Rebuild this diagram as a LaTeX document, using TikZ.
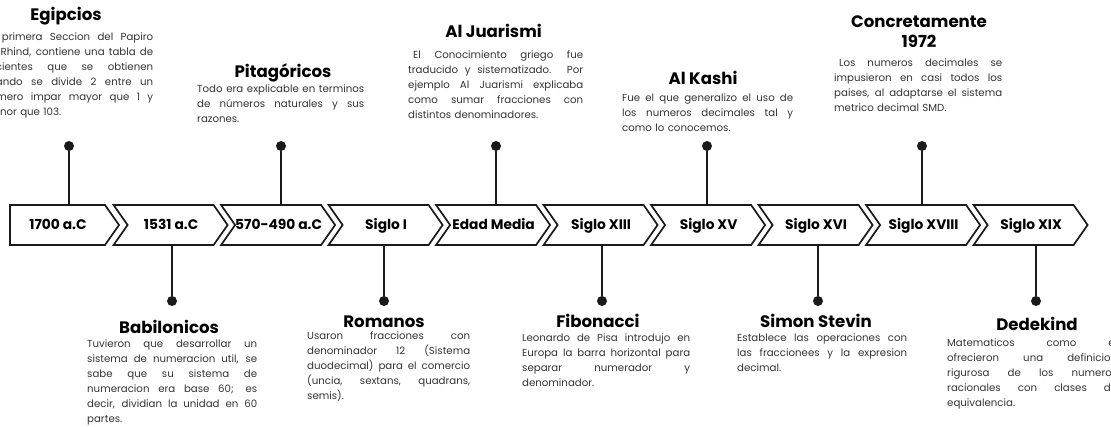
\documentclass[tikz,border=0pt]{standalone}
\usepackage{fontspec}
\setmainfont{Poppins}
\setlength{\parindent}{0pt}
\definecolor{linec}{HTML}{1A1A1A}
\definecolor{bodyc}{HTML}{333333}
\newcommand\jline[1]{\noindent{\spaceskip=0pt\xspaceskip=0pt\makebox[\hsize][s]{#1}}\par}
\newcommand\lline[1]{\noindent #1\par}
\begin{document}
\begin{tikzpicture}[x=1pt,y=-1pt,
  chev/.style={draw=linec, line width=1.7pt, line join=miter},
  lbl/.style={font=\fontsize{13.8}{14}\selectfont\bfseries, text=black, text height=9.7pt, text depth=0pt, inner sep=0pt, minimum height=40pt},
  ttl/.style={font=\fontsize{16.6}{20}\selectfont\bfseries, text=black, inner sep=0pt, anchor=base},
  body/.style={font=\fontsize{10.2}{14.9}\selectfont, text=bodyc, inner sep=0pt, anchor=north west},
  stem/.style={draw=linec, line width=2.2pt},
  dot/.style={circle, fill=linec, inner sep=0pt, minimum size=10pt}
]
\useasboundingbox (0,0) rectangle (1111,427);
\clip (0,0) rectangle (1111,427);

% chevrons
\draw[chev] (10,205) -- (105,205) -- (119,225) -- (105,245) -- (10,245) -- cycle;
\node[lbl] (b1) at (58,225) {1700 a.C};
\foreach \i/\t [count=\k from 0] in {2/1531 a.C,3/570-490 a.C,4/Siglo I,5/Edad Media,6/Siglo XIII,7/Siglo XV,8/Siglo XVI,9/Siglo XVIII,10/Siglo XIX}{
  \pgfmathsetmacro\xo{113.6+\k*107.5}
  \draw[chev] (\xo,205) -- ++(100,0) -- ++(14,20) -- ++(-14,20) -- ++(-100,0) -- ++(14,-20) -- cycle;
  \node[lbl] (b\i) at (\xo+57.5,225) {\t};
}

% top events
\node[dot] (d1) at (69,146) {};
\node[dot] (d3) at (281,146) {};
\node[dot] (d5) at (496,146) {};
\node[dot] (d7) at (707,146) {};
\node[dot] (d9) at (922,146) {};
\foreach \n in {1,3,5,7,9}{\draw[stem] (d\n) -- (d\n |- b\n.north);}

% bottom events
\node[dot] (d2) at (172,301) {};
\node[dot] (d4) at (384,301) {};
\node[dot] (d6) at (602,301) {};
\node[dot] (d8) at (818,301) {};
\node[dot] (d10) at (1036,301) {};
\foreach \n in {2,4,6,8,10}{\draw[stem] (d\n) -- (d\n |- b\n.south);}

% titles
\node[ttl] (t1) at (66,21) {Egipcios};
\node[ttl] (t3) at (283,78) {Pitagóricos};
\node[ttl] (t5) at (493.5,38) {Al Juarismi};
\node[ttl] (t7) at (703,84.5) {Al Kashi};
\node[ttl, anchor=north, align=center] (t9) at (919,16) {Concretamente\\1972};
\node[ttl] (t2) at (169,334) {Babilonicos};
\node[ttl] (t4) at (384,328) {Romanos};
\node[ttl] (t6) at (598,328) {Fibonacci};
\node[ttl] (t8) at (816,328) {Simon Stevin};
\node[ttl] (t10) at (1037,331) {Dedekind};

% bodies
\node[body, text width=170pt] (x1) at (-17,33) {%
\jline{La primera Seccion del Papiro}
\jline{de Rhind, contiene una tabla de}
\jline{cocientes que se obtienen}
\jline{cuando se divide 2 entre un}
\jline{numero impar mayor que 1 y}
\lline{menor que 103.}};
\node[body, text width=167pt] (x3) at (197,85) {%
\jline{Todo era explicable en terminos}
\jline{de números naturales y sus}
\lline{razones.}};
\node[body, text width=175pt] (x5) at (408,50.5) {%
\jline{\hspace*{5pt}El Conocimiento griego fue}
\jline{traducido y sistematizado. Por}
\jline{ejemplo Al Juarismi explicaba}
\jline{como sumar fracciones con}
\lline{distintos denominadores.}};
\node[body, text width=171pt] (x7) at (622,94) {%
\jline{Fue el que generalizo el uso de}
\jline{los numeros decimales tal y}
\lline{como lo conocemos.}};
\node[body, text width=168pt] (x9) at (834,59) {%
\jline{\hspace*{5pt}Los numeros decimales se}
\jline{impusieron en casi todos los}
\jline{paises, al adaptarse el sistema}
\lline{metrico decimal SMD.}};
\node[body, text width=170pt] (x2) at (87,340) {%
\jline{Tuvieron que desarrollar un}
\jline{sistema de numeracion util, se}
\jline{sabe que su sistema de}
\jline{numeracion era base 60; es}
\jline{decir, dividian la unidad en 60}
\lline{partes.}};
\node[body, text width=163pt] (x4) at (307,332) {%
\jline{Usaron fracciones con}
\jline{denominador 12 (Sistema}
\jline{duodecimal) para el comercio}
\jline{(uncia, sextans, quadrans,}
\lline{semis).}};
\node[body, text width=168pt] (x6) at (522,334) {%
\jline{Leonardo de Pisa introdujo en}
\jline{Europa la barra horizontal para}
\jline{separar numerador y}
\lline{denominador.}};
\node[body, text width=170pt] (x8) at (737,334) {%
\jline{Establece las operaciones con}
\jline{las fraccionees y la expresion}
\lline{decimal.}};
\node[body, text width=170pt] (x10) at (947,339) {%
\jline{Matematicos como el}
\jline{ofrecieron una definicion}
\jline{rigurosa de los numeros}
\jline{racionales con clases de}
\lline{equivalencia.}};
\end{tikzpicture}
\end{document}
